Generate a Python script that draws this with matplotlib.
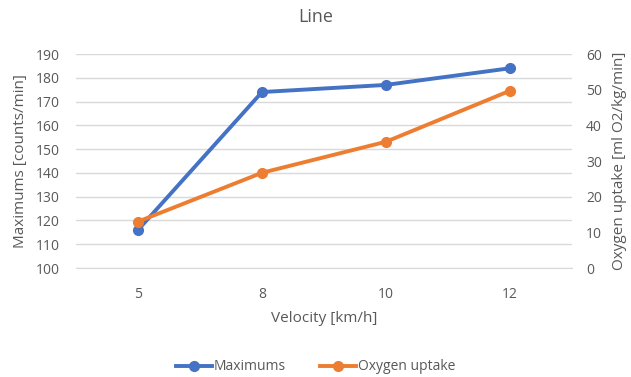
import matplotlib
matplotlib.use("Agg")
import matplotlib.pyplot as plt

categories = ["5", "8", "10", "12"]
maximums = [116, 174, 177, 184]
oxygen = [13.0, 26.7, 35.4, 49.7]

plt.rcParams['font.family'] = ['Open Sans', 'DejaVu Sans']
gray = "#595959"

fig = plt.figure(figsize=(6.31, 3.77), dpi=100)
W, H = 631, 377
ax = fig.add_axes([76 / W, 1 - 268 / H, (572 - 76) / W, (268 - 54) / H])
ax2 = ax.twinx()

x = list(range(len(categories)))
l1, = ax.plot(x, maximums, color="#4472C4", lw=2.8, marker="o", ms=7, label="Maximums", zorder=3)
l2, = ax2.plot(x, oxygen, color="#ED7D31", lw=2.8, marker="o", ms=7, label="Oxygen uptake", zorder=3)

ax.set_xlim(-0.5, len(categories) - 0.5)
ax.set_ylim(100, 190)
ax.set_yticks(range(100, 191, 10))
ax2.set_ylim(0, 60)
ax2.set_yticks(range(0, 61, 10))
ax.set_xticks(x)
ax.set_xticklabels(categories)

ax.grid(axis="y", color="#d9d9d9", lw=1)
ax.set_axisbelow(True)
for a in (ax, ax2):
    for s in a.spines.values():
        s.set_visible(False)
    a.tick_params(length=0, colors=gray, labelsize=10)
ax.spines["bottom"].set_visible(True)
ax.spines["bottom"].set_color("#d9d9d9")
ax.tick_params(axis="x", pad=14)
ax.tick_params(axis="y", pad=12)
ax2.tick_params(axis="y", pad=10)

ax.set_xlabel("Velocity [km/h]", color=gray, fontsize=11, labelpad=6)
ax.set_ylabel("Maximums [counts/min]", color=gray, fontsize=11, labelpad=5)
ax2.set_ylabel("Oxygen uptake [ml O2/kg/min]", color=gray, fontsize=11, labelpad=7)
fig.text(0.5, 1 - 17 / H, "Line", ha="center", va="center", color=gray, fontsize=13)

fig.legend(handles=[l1, l2], loc="center", bbox_to_anchor=(0.5, 1 - 367 / H), ncol=2,
           frameon=False, fontsize=10, labelcolor=gray, handlelength=2.6,
           columnspacing=2.5, handletextpad=0.1)

fig.savefig("out.png", dpi=100)
